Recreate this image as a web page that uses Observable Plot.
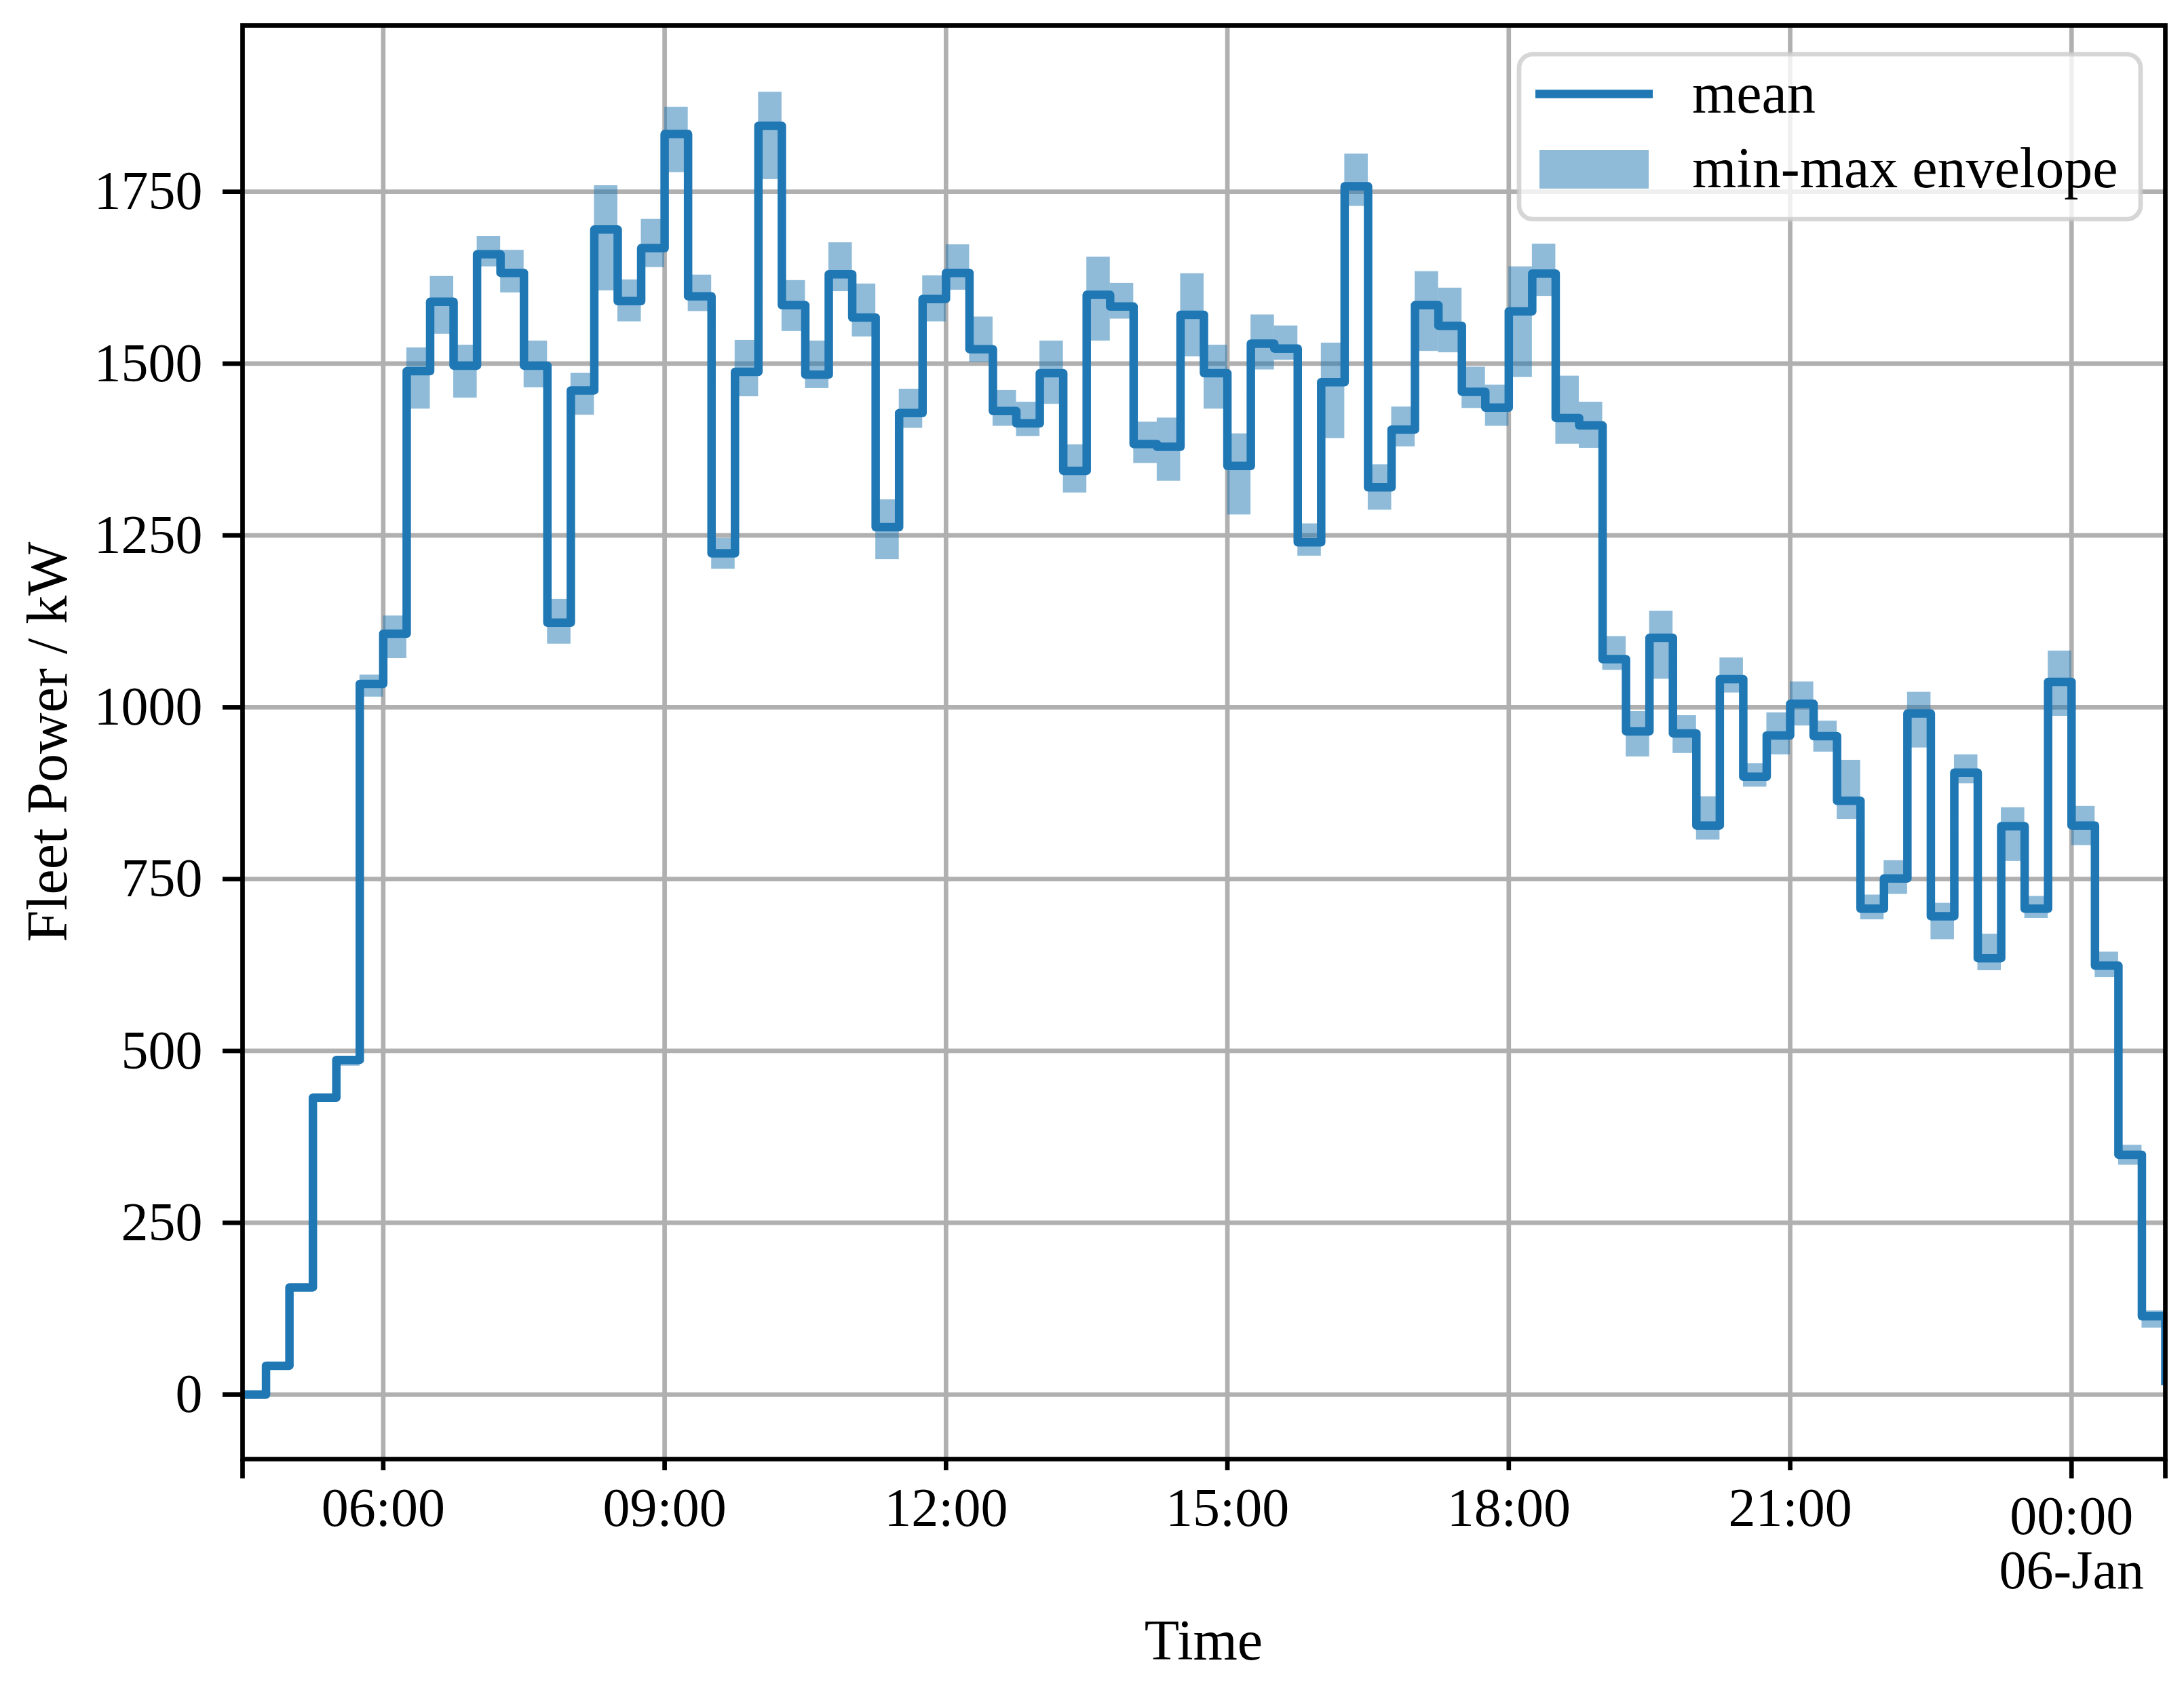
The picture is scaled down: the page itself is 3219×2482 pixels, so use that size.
<!DOCTYPE html>
<html>
<head>
<meta charset="utf-8">
<script src="https://cdn.jsdelivr.net/npm/d3@7"></script>
<script src="https://cdn.jsdelivr.net/npm/@observablehq/plot@0.6"></script>
<style>
  html, body { margin: 0; padding: 0; background: white; }
  #chart svg { display: block; }
</style>
</head>
<body>
<div id="chart"></div>
<script>
// 15-minute slots (start times); last entry is the final sample
const timeLabels = [
  "04:30","04:45",
  "05:00","05:15","05:30","05:45",
  "06:00","06:15","06:30","06:45",
  "07:00","07:15","07:30","07:45",
  "08:00","08:15","08:30","08:45",
  "09:00","09:15","09:30","09:45",
  "10:00","10:15","10:30","10:45",
  "11:00","11:15","11:30","11:45",
  "12:00","12:15","12:30","12:45",
  "13:00","13:15","13:30","13:45",
  "14:00","14:15","14:30","14:45",
  "15:00","15:15","15:30","15:45",
  "16:00","16:15","16:30","16:45",
  "17:00","17:15","17:30","17:45",
  "18:00","18:15","18:30","18:45",
  "19:00","19:15","19:30","19:45",
  "20:00","20:15","20:30","20:45",
  "21:00","21:15","21:30","21:45",
  "22:00","22:15","22:30","22:45",
  "23:00","23:15","23:30","23:45",
  "00:00","00:15","00:30","00:45",
  "01:00"
];

const meanKW = [
  0, 42,
  156, 432, 487, 1034,
  1107, 1489, 1590, 1497,
  1659, 1632, 1497, 1123,
  1461, 1695, 1591, 1668,
  1834, 1598, 1224, 1488,
  1846, 1585, 1484, 1630,
  1567, 1262, 1428, 1594,
  1632, 1521, 1431, 1413,
  1486, 1344, 1600, 1583,
  1383, 1379, 1571, 1486,
  1351, 1529, 1522, 1240,
  1473, 1758, 1320, 1404,
  1585, 1555, 1459, 1436,
  1576, 1631, 1421, 1410,
  1070, 965, 1101, 962,
  828, 1041, 899, 959,
  1005, 958, 864, 707,
  751, 991, 696, 905,
  635, 827, 707, 1037,
  828, 624, 349, 114,
  20
];

const minKW = [
  0, 40,
  150, 428, 478, 1015,
  1071, 1434, 1543, 1450,
  1641, 1603, 1465, 1092,
  1425, 1606, 1561, 1640,
  1778, 1576, 1201, 1452,
  1768, 1547, 1464, 1605,
  1539, 1215, 1406, 1561,
  1607, 1502, 1409, 1394,
  1441, 1312, 1533, 1565,
  1355, 1329, 1510, 1434,
  1280, 1491, 1505, 1220,
  1391, 1729, 1287, 1379,
  1518, 1516, 1435, 1409,
  1480, 1598, 1383, 1377,
  1054, 928, 1041, 933,
  807, 1021, 884, 931,
  973, 935, 837, 691,
  728, 941, 662, 889,
  617, 776, 693, 987,
  799, 607, 334, 97
];

const maxKW = [
  0, 45,
  160, 436, 489, 1047,
  1133, 1523, 1627, 1527,
  1685, 1665, 1533, 1157,
  1486, 1759, 1622, 1710,
  1873, 1629, 1246, 1534,
  1895, 1621, 1533, 1676,
  1616, 1302, 1463, 1628,
  1673, 1568, 1461, 1444,
  1533, 1382, 1655, 1617,
  1415, 1421, 1631, 1527,
  1398, 1571, 1555, 1267,
  1530, 1805, 1353, 1437,
  1634, 1610, 1495, 1469,
  1641, 1674, 1482, 1444,
  1103, 994, 1140, 988,
  870, 1072, 918, 992,
  1037, 980, 923, 727,
  777, 1022, 715, 931,
  670, 854, 725, 1082,
  856, 644, 363, 122
];

const yTicks = [0, 250, 500, 750, 1000, 1250, 1500, 1750];
const xMinorTickLabels = ["06:00", "09:00", "12:00", "15:00", "18:00", "21:00"];
const xMajorTickLabels = ["00:00"];
const xEdgeTickLabels = ["04:30", "01:00"];
const yLabel = "Fleet Power / kW";
const xLabel = "Time";
const legendLabels = ["mean", "min-max envelope"];

// time-of-day string -> Date (data day is 05-Jan, after midnight is 06-Jan)
const toDate = s => {
  const [h, m] = s.split(":").map(Number);
  return new Date(Date.UTC(2020, 0, h >= 4 ? 5 : 6, h, m));
};

const lineData = timeLabels.map((s, i) => ({t: toDate(s), v: meanKW[i]}));
const envData = minKW.map((lo, i) => ({
  t1: toDate(timeLabels[i]), t2: toDate(timeLabels[i + 1]), lo, hi: maxKW[i]
}));

const W = 3219, H = 2482;
const blue = "#1f77b4";
const gridColor = "#b0b0b0";
const lw = 6.7;
const font = "'Liberation Serif', 'DejaVu Serif', serif";
const wordSize = 84;

const fmt = d3.utcFormat("%H:%M");

const chart = Plot.plot({
  width: W,
  height: H,
  marginLeft: 357,
  marginRight: 28,
  marginTop: 37,
  marginBottom: 332,
  x: {type: "utc", domain: [toDate(timeLabels[0]), toDate(timeLabels[timeLabels.length - 1])]},
  y: {domain: [-93.8, 1992]},
  style: {fontFamily: font, fontSize: "80px", color: "black", background: "white"},
  marks: [
    Plot.gridY({ticks: yTicks, stroke: gridColor, strokeOpacity: 1, strokeWidth: lw}),
    Plot.gridX({ticks: xMinorTickLabels.concat(xMajorTickLabels).map(toDate), stroke: gridColor, strokeOpacity: 1, strokeWidth: lw}),
    Plot.rect(envData, {x1: "t1", x2: "t2", y1: "lo", y2: "hi", fill: blue, fillOpacity: 0.5, clip: true}),
    Plot.line(lineData, {x: "t", y: "v", curve: "step-after", stroke: blue, strokeWidth: 12.5,
      strokeLinejoin: "round", strokeLinecap: "square", clip: true}),
    Plot.frame({stroke: "black", strokeWidth: lw}),
    Plot.axisY({ticks: yTicks, tickSize: 29, tickPadding: 30, strokeWidth: lw, label: null, anchor: "left",
      tickFormat: d => String(d)}),
    Plot.axisX({ticks: xMinorTickLabels.map(toDate), tickSize: 17, tickPadding: 25, strokeWidth: lw,
      tickFormat: fmt, label: null, anchor: "bottom"}),
    Plot.axisX({ticks: xMajorTickLabels.map(toDate), tickSize: 29, tickPadding: 25, strokeWidth: lw,
      tickFormat: d => fmt(d) + "\n" + d3.utcFormat("%d-%b")(d), label: null, anchor: "bottom"}),
    Plot.axisX({ticks: xEdgeTickLabels.map(toDate), tickSize: 29, tickPadding: 25, strokeWidth: lw,
      tickFormat: () => "", label: null, anchor: "bottom"})
  ]
});

document.getElementById("chart").appendChild(chart);

// axis titles and legend (layout annotations)
const svg = d3.select(chart);
svg.append("text")
  .attr("transform", "translate(98,1093.5) rotate(-90)")
  .attr("text-anchor", "middle")
  .attr("font-family", font).attr("font-size", wordSize).attr("fill", "black")
  .text(yLabel);
svg.append("text")
  .attr("x", 1774).attr("y", 2446)
  .attr("text-anchor", "middle")
  .attr("font-family", font).attr("font-size", wordSize).attr("fill", "black")
  .text(xLabel);

const lg = svg.append("g");
lg.append("rect")
  .attr("x", 2239).attr("y", 80).attr("width", 916).attr("height", 243)
  .attr("rx", 20).attr("ry", 20)
  .attr("fill", "white").attr("fill-opacity", 0.8)
  .attr("stroke", "#cccccc").attr("stroke-opacity", 0.8).attr("stroke-width", lw);
lg.append("line")
  .attr("x1", 2263).attr("x2", 2436).attr("y1", 138.5).attr("y2", 138.5)
  .attr("stroke", blue).attr("stroke-width", 12.5);
lg.append("rect")
  .attr("x", 2269).attr("y", 221).attr("width", 161).attr("height", 57)
  .attr("fill", blue).attr("fill-opacity", 0.5);
lg.append("text")
  .attr("x", 2494).attr("y", 166)
  .attr("text-anchor", "start")
  .attr("font-family", font).attr("font-size", wordSize).attr("fill", "black")
  .text(legendLabels[0]);
lg.append("text")
  .attr("x", 2494).attr("y", 276)
  .attr("text-anchor", "start")
  .attr("font-family", font).attr("font-size", wordSize).attr("fill", "black")
  .text(legendLabels[1]);
</script>
</body>
</html>
